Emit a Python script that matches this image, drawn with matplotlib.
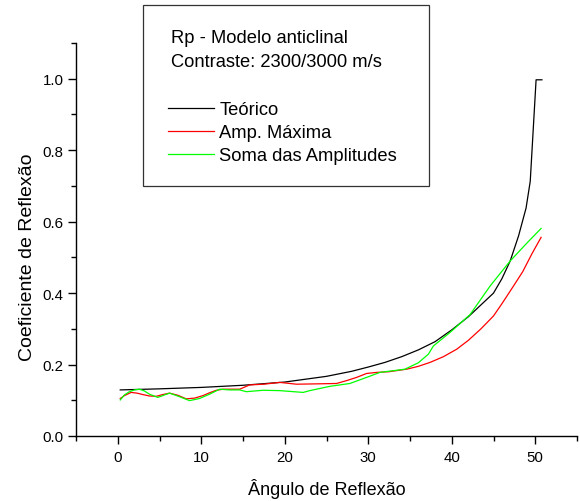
import matplotlib.pyplot as plt
from matplotlib.patches import Rectangle
from matplotlib.ticker import MultipleLocator

plt.rcParams['font.family'] = ['Liberation Sans', 'DejaVu Sans']

# curva teorica (Zoeppritz) e medidas do modelo anticlinal
teorico_x = [0.3, 5, 10, 15, 20, 25, 28, 30, 32, 34, 36, 38, 40, 42, 44, 45,
             46, 47, 48, 48.9, 49.4, 50.1, 50.8]
teorico_y = [0.129, 0.132, 0.136, 0.142, 0.151, 0.167, 0.181, 0.193, 0.206,
             0.222, 0.241, 0.264, 0.297, 0.334, 0.378, 0.40, 0.44, 0.49, 0.56,
             0.638, 0.713, 0.997, 0.997]

amp_x = [0.3, 0.8, 1.6, 2.3, 3.0, 3.8, 4.6, 5.4, 6.2, 7.2, 8.2, 9.2, 10.2, 11.0,
         11.8, 12.6, 13.4, 14.6, 15.8, 17.5, 19.4, 21.4, 24, 26.2, 27.4, 28.6,
         29.8, 31, 32.5, 34.6, 36, 37.4, 39, 40.6, 42, 43.5, 45, 46, 47.4, 48.5,
         49.6, 50.7]
amp_y = [0.105, 0.113, 0.122, 0.120, 0.116, 0.112, 0.111, 0.116, 0.120, 0.114,
         0.104, 0.106, 0.113, 0.121, 0.128, 0.131, 0.131, 0.131, 0.143, 0.145,
         0.150, 0.145, 0.146, 0.147, 0.155, 0.164, 0.175, 0.178, 0.180, 0.187,
         0.195, 0.206, 0.222, 0.243, 0.268, 0.300, 0.336, 0.370, 0.420, 0.460,
         0.510, 0.556]

soma_x = [0.3, 0.8, 1.4, 2.0, 2.6, 3.2, 3.8, 4.8, 5.5, 6.2, 7.4, 8.6, 9.8, 11.0,
          12.2, 13.4, 14.6, 15.4, 17.4, 19.4, 22.2, 23.0, 25.4, 27.8, 29.8,
          31.4, 34.4, 36, 37.2, 37.8, 39.8, 42.2, 44.6, 47.0, 49.0, 50.7]
soma_y = [0.101, 0.115, 0.124, 0.129, 0.131, 0.126, 0.117, 0.108, 0.114, 0.120,
          0.110, 0.099, 0.105, 0.117, 0.131, 0.129, 0.129, 0.124, 0.128, 0.127,
          0.122, 0.127, 0.139, 0.147, 0.164, 0.178, 0.187, 0.205, 0.229, 0.252,
          0.290, 0.340, 0.420, 0.490, 0.540, 0.581]

fig = plt.figure(figsize=(5.8, 5.02), dpi=100)
ax = fig.add_axes([76 / 580, 1 - 437 / 502, (577 - 76) / 580, (437 - 44) / 502])

ax.plot(teorico_x, teorico_y, color='black', lw=0.9, label='Teórico')
ax.plot(amp_x, amp_y, color='#ff0000', lw=0.9, label='Amp. Máxima')
ax.plot(soma_x, soma_y, color='#00ff00', lw=0.9, label='Soma das Amplitudes')

ax.set_xlim(-5, 55)
ax.set_ylim(0, 1.1)
ax.xaxis.set_major_locator(MultipleLocator(10))
ax.xaxis.set_minor_locator(MultipleLocator(5))
ax.yaxis.set_major_locator(MultipleLocator(0.2))
ax.yaxis.set_minor_locator(MultipleLocator(0.1))
ax.yaxis.set_major_formatter(lambda v, p: f'{v:.1f}')
ax.xaxis.set_major_formatter(lambda v, p: '' if v < 0 else f'{v:.0f}')

for s in ['top', 'right']:
    ax.spines[s].set_visible(False)
for s in ['left', 'bottom']:
    ax.spines[s].set_linewidth(1.0)
ax.tick_params(which='major', length=6, width=1.0, labelsize=10.8)
ax.tick_params(which='minor', length=3.5, width=1.0)
ax.tick_params(axis='x', which='major', pad=4)
ax.tick_params(axis='y', which='major', pad=3)

ax.set_xlabel('Ângulo de Reflexão', fontsize=13, va='baseline')
ax.set_ylabel('Coeficiente de Reflexão', fontsize=14)
ax.xaxis.set_label_coords(0.5, -0.1476)
ax.yaxis.set_label_coords(-0.08, 0.457)

# caixa com titulo e legenda
fig.patches.append(Rectangle((142.7 / 580, 1 - 186.7 / 502), 286 / 580, 181 / 502,
                             transform=fig.transFigure, fill=False,
                             edgecolor='#333333', lw=0.9))
fig.text(170.7 / 580, 1 - 43.3 / 502, 'Rp - Modelo anticlinal', fontsize=13.2, va='baseline')
fig.text(170.7 / 580, 1 - 66.7 / 502, 'Contraste: 2300/3000 m/s', fontsize=13.2, va='baseline')
fig.legend(loc='upper left', bbox_to_anchor=(168 / 580, 1 - 102 / 502),
           frameon=False, fontsize=13.2, handlelength=2.5, handletextpad=0.3,
           labelspacing=0.33, borderpad=0, borderaxespad=0)

fig.savefig('out.png', dpi=100)
